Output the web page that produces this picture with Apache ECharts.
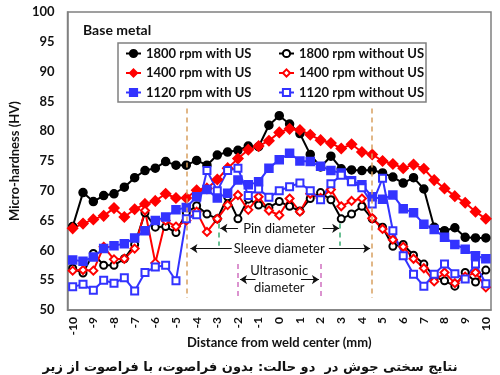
<!DOCTYPE html>
<html>
<head>
<meta charset="utf-8">
<script src="https://cdn.jsdelivr.net/npm/echarts@6/dist/echarts.min.js"></script>
<style>
  html, body { margin: 0; padding: 0; background: #fff; }
  #main { width: 500px; height: 375px; }
</style>
</head>
<body>
<div id="main"></div>
<script>
// distance from weld center (mm), one point every 0.5 mm
var distances = ['-10', '-9.5', '-9', '-8.5', '-8', '-7.5', '-7', '-6.5', '-6', '-5.5',
    '-5', '-4.5', '-4', '-3.5', '-3', '-2.5', '-2', '-1.5', '-1', '-0.5', '0',
    '0.5', '1', '1.5', '2', '2.5', '3', '3.5', '4', '4.5', '5',
    '5.5', '6', '6.5', '7', '7.5', '8', '8.5', '9', '9.5', '10']

var hv1800With = [64.0, 69.7, 68.2, 69.2, 69.5, 70.6, 72.2, 73.4, 73.8, 74.9,
    74.3, 74.3, 75.1, 74.3, 76.0, 76.5, 76.8, 77.5, 77.4, 81.0,
    82.6, 81.2, 79.6, 76.1, 74.0, 75.8, 73.7, 73.5, 73.4, 73.5,
    73.0, 72.3, 71.3, 72.2, 70.3, 63.9, 63.3, 63.8, 62.2, 62.1, 62.1]
var hv1800Without = [57.0, 56.2, 59.5, 57.5, 57.5, 58.6, 61.0, 66.3, 63.9, 64.0,
    63.0, 66.3, 67.5, 66.1, 65.3, 69.0, 65.3, 68.6, 67.6, 67.2,
    68.2, 67.4, 66.6, 68.7, 69.7, 68.5, 65.3, 66.1, 67.4, 65.3,
    63.9, 60.7, 61.0, 59.2, 57.7, 55.6, 54.9, 54.0, 56.3, 54.7, 56.7]
var hv1400With = [63.7, 64.5, 65.2, 65.8, 67.1, 65.6, 66.9, 67.8, 68.3, 69.5,
    68.8, 68.8, 70.1, 70.4, 71.9, 73.8, 75.4, 76.9, 77.5, 78.4,
    79.8, 80.4, 80.2, 79.4, 78.5, 78.0, 77.1, 77.8, 76.5, 76.1,
    75.0, 74.5, 73.8, 74.4, 73.7, 71.8, 70.4, 69.1, 68.0, 66.5, 65.3]
var hv1400Without = [56.6, 56.7, 56.6, 60.6, 58.5, 58.6, 60.3, 66.7, 57.9, 65.0,
    64.0, 65.0, 66.5, 63.1, 65.3, 67.6, 69.3, 66.8, 69.0, 66.7,
    65.9, 68.7, 66.5, 69.5, 68.8, 70.2, 67.4, 68.3, 68.7, 65.4,
    63.6, 61.8, 60.6, 58.6, 57.0, 54.8, 56.3, 54.5, 55.6, 56.3, 53.8]
var hv1120With = [58.4, 58.2, 58.9, 60.3, 60.8, 61.1, 62.1, 63.3, 65.0, 65.6,
    66.8, 67.2, 69.0, 70.2, 68.8, 69.6, 71.8, 71.0, 71.5, 73.8,
    75.2, 76.3, 75.0, 74.9, 74.1, 73.4, 73.0, 71.7, 71.0, 69.0,
    68.6, 69.3, 67.0, 66.3, 64.4, 63.5, 62.2, 61.0, 60.2, 59.1, 58.6]
var hv1120Without = [53.9, 54.3, 53.3, 55.0, 54.5, 55.4, 53.2, 56.3, 57.2, 57.5,
    54.9, 65.3, 66.0, 73.4, 70.0, 73.4, 73.8, 69.2, 70.3, 68.9,
    70.0, 70.7, 71.3, 70.0, 68.5, 71.2, 72.6, 71.5, 70.5, 67.8,
    72.1, 63.3, 59.1, 56.0, 54.0, 56.0, 57.7, 56.1, 55.2, 57.7, 54.4]

var baseMetal = 95
var sleeveHalf = 4.5
var pinHalf = 2.95
var usHalf = 2

var font = 'Lato'

var Chart = echarts.init(document.getElementById('main'))

var mkSeries = (name, data, color, symbol, size) => {
    return {
        name: name,
        type: 'line',
        data: data,
        symbol: symbol,
        symbolSize: size,
        showAllSymbol: true,
        lineStyle: { color: color, width: 2 },
        itemStyle: { color: color, borderColor: color, borderWidth: 1.5 }
    }
}

var arrow = (x1, x2, y) => [{ coord: [x1, y] }, { coord: [x2, y] }]
var vdash = (x, y1, y2, color) => [
    { coord: [x, y1], lineStyle: { color: color, type: [5, 4], width: 1.5 }, symbol: 'none' },
    { coord: [x, y2], symbol: 'none' }
]
var note = (text, x, y, extra) => Object.assign({
    name: text, coord: [x, y]
}, extra || {})

var legendText = { fontFamily: font, fontSize: 13, fontWeight: 'bold', color: '#111' }

var option = {
    backgroundColor: '#fff',
    animation: false,
    title: {
        text: 'نتایج سختی جوش در  دو حالت: بدون فراصوت، با فراصوت از زیر',
        left: 'center',
        top: 361,
        padding: 0,
        textStyle: { fontFamily: 'DejaVu Sans', fontSize: 13, fontWeight: 'bold', color: '#111' }
    },
    grid: {
        left: 49,
        right: 9,
        top: 12,
        bottom: 65,
        show: true,
        borderColor: '#808080',
        borderWidth: 1.5
    },
    legend: [
        {
            data: ['1800 rpm with US', '1400 rpm with US', '1120 rpm with US'],
            orient: 'vertical',
            left: 125,
            top: 47,
            padding: 0,
            itemGap: 6.5,
            itemWidth: 15,
            itemHeight: 9,
            textStyle: legendText
        },
        {
            data: ['1800 rpm without US', '1400 rpm without US', '1120 rpm without US'],
            orient: 'vertical',
            left: 278,
            top: 47,
            padding: 0,
            itemGap: 6.5,
            itemWidth: 15,
            itemHeight: 9,
            textStyle: legendText
        }
    ],
    graphic: [
        {
            type: 'rect',
            shape: { x: 118, y: 43, width: 308, height: 59 },
            style: { fill: 'rgba(255,255,255,0.9)', stroke: '#808080', lineWidth: 1.5 },
            z: 3
        }
    ],
    xAxis: [
        {
            type: 'category',
            data: distances,
            boundaryGap: true,
            name: 'Distance from weld center (mm)',
            nameLocation: 'middle',
            nameGap: 26,
            nameMoveOverlap: false,
            nameTextStyle: { fontFamily: font, fontSize: 13, fontWeight: 'bold', color: '#111' },
            axisLine: { lineStyle: { color: '#808080', width: 1.5 } },
            axisTick: { show: false },
            axisLabel: {
                interval: 1,
                rotate: 90,
                margin: 7,
                fontFamily: font,
                fontSize: 12,
                fontWeight: 'bold',
                color: '#111'
            },
            splitLine: { show: false }
        },
        {
            // hidden value axis matching the category layout, used for annotations
            type: 'value',
            min: -10.25,
            max: 10.25,
            show: false
        }
    ],
    yAxis: {
        type: 'value',
        min: 50,
        max: 100,
        interval: 5,
        name: 'Micro-hardness (HV)',
        nameLocation: 'middle',
        nameGap: 36,
        nameTextStyle: { fontFamily: font, fontSize: 13, fontWeight: 'bold', color: '#111' },
        axisLine: { show: true, onZero: false, lineStyle: { color: '#808080', width: 1.5 } },
        axisTick: { show: false },
        axisLabel: { margin: 13, fontFamily: font, fontSize: 13, fontWeight: 'bold', color: '#111' },
        splitLine: { show: false }
    },
    series: [
        mkSeries('1800 rpm with US', hv1800With, '#000000', 'circle', 8),
        mkSeries('1800 rpm without US', hv1800Without, '#000000', 'emptyCircle', 7),
        mkSeries('1400 rpm with US', hv1400With, '#ff0000', 'diamond', 10),
        mkSeries('1400 rpm without US', hv1400Without, '#ff0000', 'emptyDiamond', 8),
        mkSeries('1120 rpm with US', hv1120With, '#3333ff', 'rect', 8),
        mkSeries('1120 rpm without US', hv1120Without, '#3333ff', 'emptyRect', 7),
        {
            name: 'annotations',
            type: 'line',
            xAxisIndex: 1,
            data: [],
            silent: true,
            markLine: {
                silent: true,
                symbol: ['none', 'arrow'],
                symbolSize: 7,
                label: { show: false },
                lineStyle: { color: '#111', type: 'solid', width: 1 },
                data: [
                    [{ yAxis: baseMetal, symbol: 'none', lineStyle: { color: '#4a78b8', type: [2, 2], width: 1.5 } },
                     { yAxis: baseMetal, symbol: 'none' }],
                    vdash(-sleeveHalf, 83.8, 52, '#d8a060'),
                    vdash(sleeveHalf, 83.8, 52, '#d8a060'),
                    vdash(-pinHalf, 64.5, 60.8, '#3aaa70'),
                    vdash(pinHalf, 64.5, 60.8, '#3aaa70'),
                    vdash(-usHalf, 57.7, 52, '#d070c0'),
                    vdash(usHalf, 57.7, 52, '#d070c0'),
                    arrow(-2.0, -2.85, 63.7),
                    arrow(2.1, 2.9, 63.7),
                    arrow(-2.3, -4.3, 60.3),
                    arrow(2.4, 4.4, 60.3),
                    arrow(-1.15, -1.9, 55.1),
                    arrow(1.05, 1.92, 55.1)
                ]
            },
            markPoint: {
                silent: true,
                symbol: 'circle',
                symbolSize: 1,
                itemStyle: { color: 'rgba(0,0,0,0)' },
                label: {
                    show: true,
                    position: 'inside',
                    formatter: '{b}',
                    fontFamily: font,
                    fontSize: 13,
                    color: '#111'
                },
                data: [
                    note('Base metal', -7.85, 96.9, { label: { fontSize: 14, fontWeight: 'bold' } }),
                    note('Pin diameter', 0.0, 63.7),
                    note('Sleeve diameter', 0.0, 60.3),
                    note('Ultrasonic', 0.0, 56.6),
                    note('diameter', 0.0, 53.8)
                ]
            }
        }
    ]
}
Chart.setOption(option)
</script>
</body>
</html>
